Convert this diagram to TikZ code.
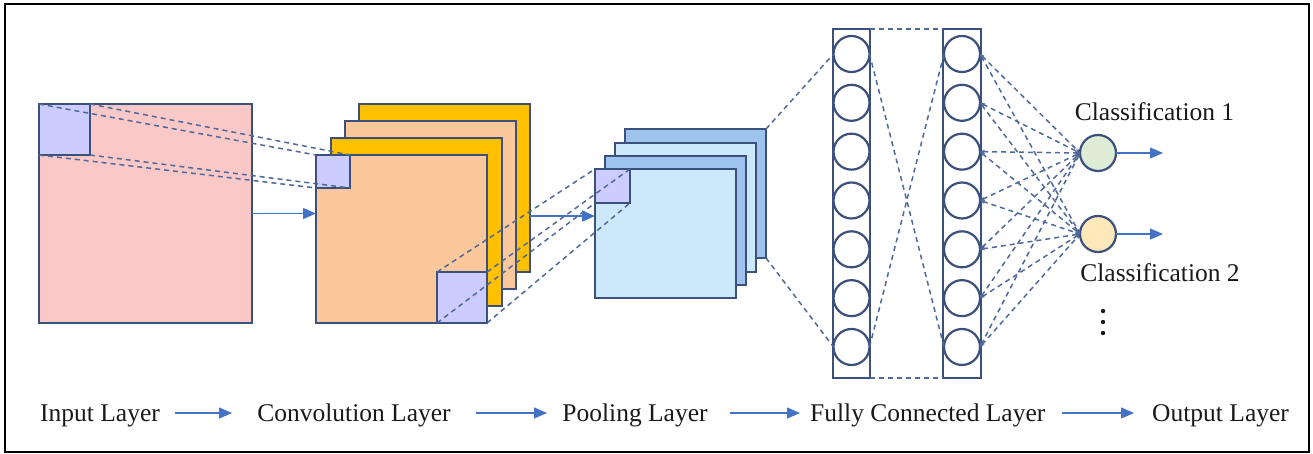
\documentclass[tikz,border=0pt]{standalone}
\usepackage{fontspec}
\setmainfont{Liberation Serif}
\usetikzlibrary{arrows.meta,calc}
\definecolor{pinkc}{RGB}{251,200,200}
\definecolor{lav}{RGB}{204,204,255}
\definecolor{peach}{RGB}{250,200,155}
\definecolor{gold}{RGB}{255,192,0}
\definecolor{lblue}{RGB}{205,232,251}
\definecolor{mblue}{RGB}{157,195,238}
\definecolor{edgec}{RGB}{60,80,125}
\definecolor{dashc}{RGB}{80,105,155}
\definecolor{arrowc}{RGB}{68,114,196}
\definecolor{greenc}{RGB}{222,236,214}
\definecolor{creamc}{RGB}{254,232,185}
\begin{document}
\begin{tikzpicture}[x=1pt,y=-1pt,
  box/.style={draw=edgec,line width=2.4pt,rectangle,inner sep=0pt,outer sep=0pt,anchor=north west},
  convbox/.style={box,minimum width=171pt,minimum height=168pt},
  poolbox/.style={box,minimum width=141pt,minimum height=129pt},
  fcc/.style={draw=edgec,line width=2.2pt,circle,fill=white,minimum size=36pt,inner sep=0pt,outer sep=0pt},
  outc/.style={draw=edgec,line width=2.2pt,circle,minimum size=36pt,inner sep=0pt,outer sep=0pt},
  dl/.style={draw=dashc,line width=1.5pt,dash pattern=on 5pt off 4pt},
  dla/.style={dl,{Stealth[length=5pt,width=4pt]}-{Stealth[length=5pt,width=4pt]}},
  arr/.style={draw=arrowc,line width=1.3pt,-{Triangle[length=13pt,width=11pt]}},
  lbl/.style={font=\fontsize{25.5}{30}\selectfont,inner sep=0pt,text=black!90}]
\useasboundingbox (0,0) rectangle (1313,454);
\draw[line width=2pt] (5,4) rectangle (1309,452);
% input
\node[box,fill=pinkc,minimum width=213pt,minimum height=219pt] (in) at (39,104) {};
\node[box,fill=lav,minimum width=51pt,minimum height=51pt] (is) at (39,104) {};
% convolution
\node[convbox,fill=gold] (cv4) at (359,104) {};
\node[convbox,fill=peach] (cv3) at (345,121) {};
\node[convbox,fill=gold] (cv2) at (331,138) {};
\node[convbox,fill=peach] (cv1) at (316,155) {};
\node[box,fill=lav,minimum width=34pt,minimum height=33pt] (cs1) at (316,155) {};
\node[box,fill=lav,minimum width=50pt,minimum height=51pt] (cs2) at (437,272) {};
% pooling
\node[poolbox,fill=mblue] (pl4) at (625,129) {};
\node[poolbox,fill=lblue] (pl3) at (615,143) {};
\node[poolbox,fill=mblue] (pl2) at (605,156) {};
\node[poolbox,fill=lblue] (pl1) at (595,169) {};
\node[box,fill=lav,minimum width=35pt,minimum height=34pt] (ps) at (595,169) {};
% fully connected
\node[box,minimum width=37pt,minimum height=349pt] (f1) at (833,29) {};
\node[box,minimum width=38pt,minimum height=349pt] (f2) at (943,29) {};
\foreach \i in {1,...,7} {
  \pgfmathsetmacro\yy{54+48.83*(\i-1)}
  \node[fcc] (a\i) at (851.5,\yy) {};
  \node[fcc] (b\i) at (962,\yy) {};
}
% output
\node[outc,fill=greenc] (o1) at (1098,153) {};
\node[outc,fill=creamc] (o2) at (1098,234) {};
% dashed connections
\foreach \c in {north west,north east,south west,south east} {
  \draw[dl] (is.\c) -- (cs1.\c);
  \draw[dl] (cs2.\c) -- (ps.\c);
}
\draw[dl] (pl4.north east) -- (a1.west);
\draw[dl] (pl4.south east) -- (a7.west);
\draw[dl] (f1.north east) -- (f2.north west);
\draw[dl] (f1.south east) -- (f2.south west);
\draw[dl] (a1.east) -- (b7.west);
\draw[dl] (a7.east) -- (b1.west);
\foreach \i in {1,...,7} {
  \foreach \j in {1,2} {
    \draw[dla] (b\i.east) -- (o\j.west);
  }
}
% solid arrows
\draw[arr] (in.east) -- (in.east -| cv1.west);
\coordinate (cp) at ($(cv4.south east)!0.333!(cv4.north east)$);
\draw[arr] (cp) -- (cp -| pl1.west);
\coordinate (o1e) at (1163,153);
\coordinate (o2e) at (1163,234);
\draw[arr] (o1.east) -- (o1e);
\draw[arr] (o2.east) -- (o2e);
% labels
\node[lbl,anchor=base] (c1) at (1154.5,121) {Classification 1};
\node[lbl,anchor=base] (c2) at (1160,281) {Classification 2};
\fill[black!90] (1103,311) circle (2.2pt) (1103,322) circle (2.2pt) (1103,333) circle (2.2pt);
% bottom row
\node[lbl,anchor=base west] (t1) at (40,421) {Input Layer};
\node[lbl,anchor=base] (t2) at (354,421) {Convolution Layer};
\node[lbl,anchor=base] (t3) at (635,421) {Pooling Layer};
\node[lbl,anchor=base west] (t4) at (810,421) {Fully Connected Layer};
\node[lbl,anchor=base west] (t5) at (1152,421) {Output Layer};
\coordinate (s1) at (175,413);
\coordinate (s2) at (476,413);
\coordinate (s3) at (730,413);
\coordinate (s4) at (1062,413);
\coordinate (e1) at (232,413);
\coordinate (e2) at (547,413);
\coordinate (e3) at (800,413);
\coordinate (e4) at (1134,413);
\draw[arr] (s1) -- (e1);
\draw[arr] (s2) -- (e2);
\draw[arr] (s3) -- (e3);
\draw[arr] (s4) -- (e4);
\end{tikzpicture}
\end{document}
